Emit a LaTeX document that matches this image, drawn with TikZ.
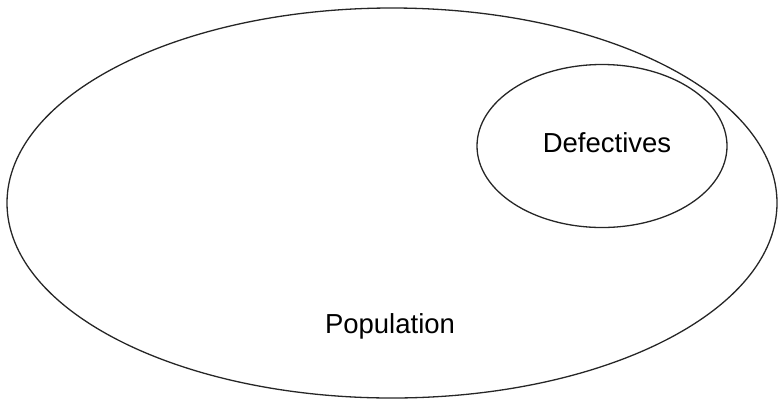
\documentclass[tikz,border=0pt]{standalone}
\usepackage{fontspec}
\setmainfont{Liberation Sans}
\begin{document}
\begin{tikzpicture}[x=1pt,y=-1pt,
  setshape/.style={draw=black!85,line width=1.3pt},
  lbl/.style={font=\fontsize{27.5}{30}\selectfont,inner sep=0pt,anchor=base}]
\useasboundingbox (0,0) rectangle (779,400);
\draw[setshape] (392,203) ellipse [x radius=385, y radius=195];
\draw[setshape] (602,146) ellipse [x radius=125, y radius=81.5];
\node[lbl] (def) at (607,152) {Defectives};
\node[lbl] (pop) at (390,333) {Population};
\end{tikzpicture}
\end{document}
